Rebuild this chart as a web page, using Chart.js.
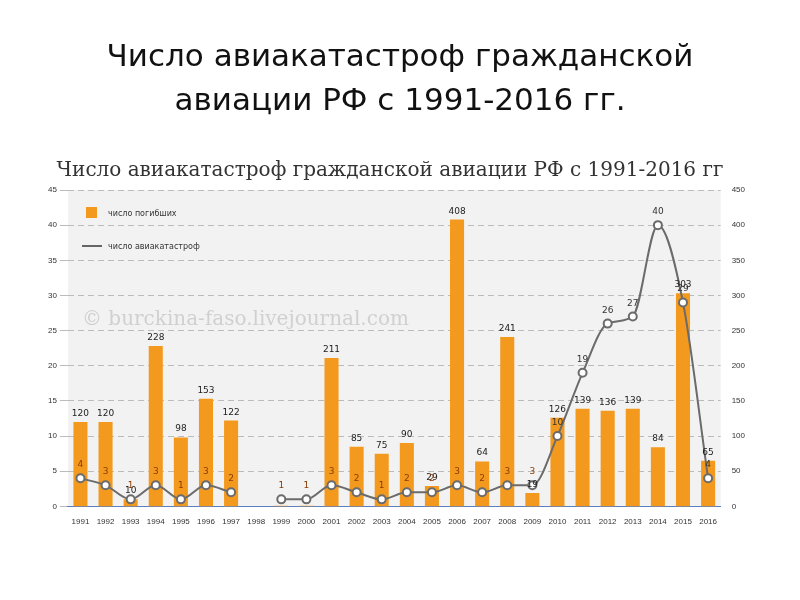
<!DOCTYPE html>
<html><head><meta charset="utf-8">
<script src="https://cdn.jsdelivr.net/npm/chart.js@4/dist/chart.umd.min.js"></script>
<style>html,body{margin:0;padding:0;background:#fff}#w{width:800px;height:600px}</style>
</head><body><div id="w"><canvas id="c" width="800" height="600"></canvas></div>
<script>
const years=['1991','1992','1993','1994','1995','1996','1997','1998','1999','2000','2001','2002','2003','2004','2005','2006','2007','2008','2009','2010','2011','2012','2013','2014','2015','2016'];
const deaths=[120,120,10,228,98,153,122,0,1,1,211,85,75,90,29,408,64,241,19,126,139,136,139,84,303,65];
const crashes=[4,3,1,3,1,3,2,null,1,1,3,2,1,2,2,3,2,3,3,10,19,26,27,40,29,4];
const leftTicks=[0,5,10,15,20,25,30,35,40,45];
const labelsPlugin={id:'lbl',
 beforeDraw(ch){const c=ch.ctx,a=ch.chartArea;c.save();c.fillStyle='#f2f2f2';c.fillRect(a.left,a.top,a.right-a.left,a.bottom-a.top);c.restore();},
 afterDraw(ch){const c=ch.ctx;c.save();c.textAlign='center';c.fillStyle='#111';
 c.font='31px "DejaVu Sans"';c.fillText('Число авиакатастроф гражданской',400,66);c.fillText('авиации РФ с 1991-2016 гг.',400,110);
 c.font='20px "DejaVu Serif"';c.fillStyle='#333';c.fillText('Число авиакатастроф гражданской авиации РФ с 1991-2016 гг',390,176);
 c.font='20px "DejaVu Serif"';c.fillStyle='rgba(180,180,180,0.55)';c.textAlign='left';c.fillText('© burckina-faso.livejournal.com',82,325);
 c.fillStyle='#f39a1e';c.fillRect(86,207,11,11);c.strokeStyle='#666';c.lineWidth=2;c.beginPath();c.moveTo(82,246);c.lineTo(102,246);c.stroke();
 c.fillStyle='#333';c.font='8px "DejaVu Sans"';c.fillText('число погибших',108,216);c.fillText('число авиакатастроф',108,249);
 c.textAlign='center';c.font='9px "DejaVu Sans"';
 const b=ch.getDatasetMeta(0).data,p=ch.getDatasetMeta(1).data;
 b.forEach((e,i)=>{if(deaths[i]>1){c.fillStyle='#222';c.fillText(deaths[i],e.x,e.y-6);}});
 p.forEach((e,i)=>{if(crashes[i]!=null){c.fillStyle=i>=19?'#333':'#8a3b00';c.fillText(crashes[i],e.x,e.y-11);}});
 c.restore();}};
new Chart(document.getElementById('c'),{
 data:{labels:years,datasets:[
  {type:'bar',data:deaths,yAxisID:'y2',backgroundColor:'#f39a1e',categoryPercentage:0.8,barPercentage:0.7,order:2},
  {type:'line',data:crashes,yAxisID:'y',borderColor:'#6b6b6b',borderWidth:2,tension:0.4,cubicInterpolationMode:'monotone',pointRadius:4,pointBackgroundColor:'#fff',pointBorderColor:'#6b6b6b',pointBorderWidth:2,spanGaps:false,order:1}]},
 options:{responsive:false,animation:false,
  layout:{padding:{top:190,left:45,right:52,bottom:70}},
  plugins:{legend:{display:false},tooltip:{enabled:false}},
  scales:{
   x:{grid:{display:false},ticks:{color:'#333',font:{size:8},maxRotation:0,autoSkip:false},border:{color:'#5b7fbf'}},
   y:{position:'left',min:0,max:45,ticks:{stepSize:5,color:'#333',font:{size:8}},grid:{color:'#bbb'},border:{display:false,dash:[6,4]}},
   y2:{position:'right',min:0,max:450,ticks:{stepSize:50,color:'#333',font:{size:8}},grid:{display:false},border:{display:false}}}}
 ,plugins:[labelsPlugin]});
</script></body></html>
